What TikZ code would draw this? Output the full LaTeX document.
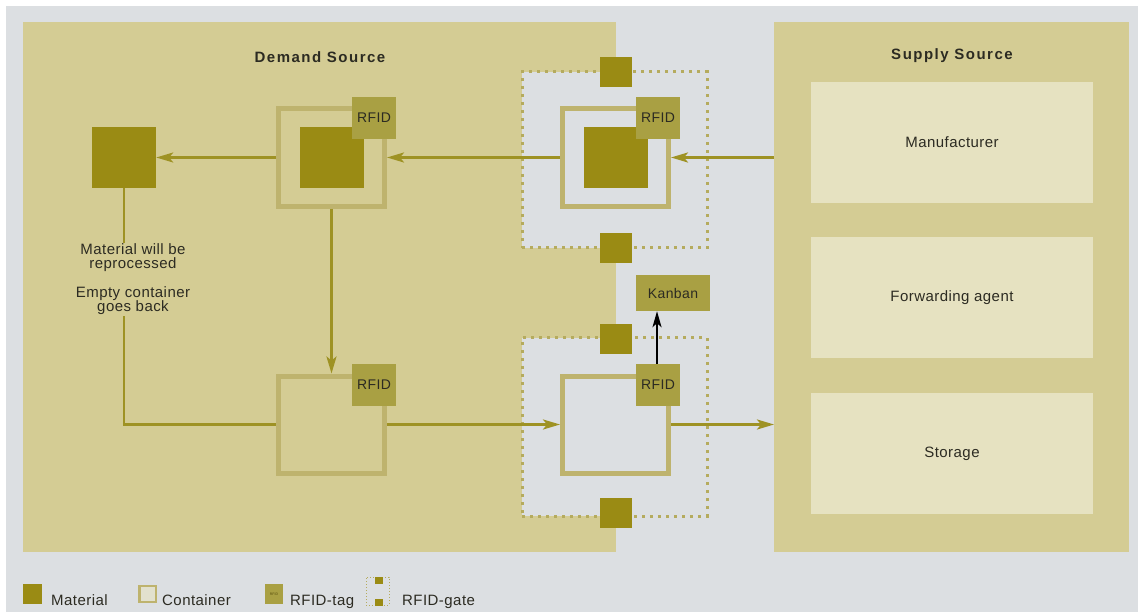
\documentclass[tikz,border=0pt]{standalone}
\usepackage{fontspec}
\setmainfont{Liberation Sans}[LetterSpace=3]
\usetikzlibrary{arrows.meta,positioning}
\definecolor{bgGray}{HTML}{DCDFE2}
\definecolor{panelTan}{HTML}{D4CC94}
\definecolor{boxCream}{HTML}{E6E2C1}
\definecolor{matOlive}{HTML}{9A8B14}
\definecolor{contEdge}{HTML}{BEB36E}
\definecolor{tagOlive}{HTML}{A9A043}
\definecolor{gateDot}{HTML}{B5AB5E}
\definecolor{flowOlive}{HTML}{9E9224}
\definecolor{inkDark}{HTML}{2C2B22}
\tikzset{
  panel/.style={fill=panelTan,inner sep=0pt,outer sep=0pt,anchor=north west},
  supplybox/.style={fill=boxCream,minimum width=282pt,minimum height=121pt,inner sep=0pt,
    text=inkDark,font=\fontsize{15pt}{17pt}\selectfont},
  paneltitle/.style={text=inkDark,font=\fontsize{15pt}{17pt}\selectfont\bfseries\addfontfeatures{LetterSpace=10}},
  material/.style={fill=matOlive,minimum width=64pt,minimum height=61pt,inner sep=0pt},
  container/.style={draw=contEdge,line width=5pt,minimum width=106pt,minimum height=98pt,inner sep=0pt},
  rfidtag/.style={fill=tagOlive,minimum width=44pt,minimum height=42pt,inner sep=0pt,
    text=inkDark,font=\fontsize{14pt}{16pt}\selectfont},
  gatebox/.style={draw=gateDot,fill=bgGray,line width=3pt,dash pattern=on 3pt off 5pt,
    minimum width=185pt,minimum height=176pt,inner sep=0pt},
  gatesq/.style={fill=matOlive,minimum width=32pt,minimum height=30pt,inner sep=0pt},
  note/.style={align=center,text=inkDark,inner sep=1pt,font=\fontsize{15pt}{14pt}\selectfont},
  legendtext/.style={anchor=base west,text=inkDark,inner sep=0pt,font=\fontsize{15pt}{17pt}\selectfont},
  flowLine/.style={draw=flowOlive,line width=2.5pt},
  flowArrow/.style={flowLine,-{Stealth[length=17pt,width=10pt,inset=4pt]}},
  kanbanArrow/.style={draw=black,line width=2pt,-{Stealth[length=16pt,width=9pt,inset=4pt]}}
}

\begin{document}
\begin{tikzpicture}[x=1pt,y=-1pt]
  \useasboundingbox (0,0) rectangle (1138,612);
  \fill[white] (0,0) rectangle (1138,612);
  \fill[bgGray] (6,6) rectangle (1138,612);

  \node[panel,minimum width=593pt,minimum height=530pt] (demand) at (23,22) {};
  \node[panel,minimum width=355pt,minimum height=530pt] (supply) at (774,22) {};
  \node[paneltitle] (demandT) at (320,57) {Demand Source};
  \node[paneltitle] (supplyT) at (952,56) {Supply Source};

  \node[supplybox] (manu) at (952,142.5) {Manufacturer};
  \node[supplybox] (fwd) at (952,297.5) {Forwarding agent};
  \node[supplybox] (store) at (952,453.5) {Storage};

  \node[gatebox] (gate1) at (614.5,160) {};
  \node[gatebox,minimum height=178pt] (gate2) at (614.5,427) {};
  \node[gatesq] (g1a) at (616,72) {};
  \node[gatesq] (g1b) at (616,248) {};
  \node[gatesq] (g2a) at (616,339) {};
  \node[gatesq] (g2b) at (616,513) {};

  \node[material] (matL) at (124,157.5) {};
  \node[container] (cont1) at (331.5,157.5) {};
  \node[material] (mat1) at (332,157.5) {};
  \node[rfidtag] (tag1) at (374,118) {RFID};
  \node[container] (cont3) at (615.5,157.5) {};
  \node[material] (mat3) at (615.5,157.5) {};
  \node[rfidtag] (tag3) at (658,118) {RFID};

  \node[container,minimum height=97pt] (cont2) at (331.5,424.5) {};
  \node[rfidtag] (tag2) at (374,385) {RFID};
  \node[container,minimum height=97pt] (cont4) at (615.5,424.5) {};
  \node[rfidtag] (tag4) at (658,385) {RFID};
  \node[rfidtag,minimum width=74pt,minimum height=36pt] (kanban) at (673,293) {Kanban};

  \node[note] (lbl1) at (133,258) {Material will be\\reprocessed};
  \node[note] (lbl2) at (133,301) {Empty container\\goes back};
  \coordinate (back) at (matL.south |- cont2.west);

  \draw[flowArrow] (supply.west |- cont3.east) -- (cont3.east);
  \draw[flowArrow] (cont3.west) -- (cont1.east);
  \draw[flowArrow] (cont1.west) -- (matL.east);
  \draw[flowArrow] (cont1.south) -- (cont2.north);
  \draw[flowLine] (matL.south) -- (matL.south |- lbl1.north);
  \draw[flowLine] (matL.south |- lbl2.south) -- (back) -- (cont2.west);
  \draw[flowArrow] (cont2.east) -- (cont4.west);
  \draw[flowArrow] (cont4.east) -- (supply.west |- cont4.east);
  \draw[kanbanArrow] (tag4.north -| 657,0) -- (kanban.south -| 657,0);

  \node[material,minimum width=19pt,minimum height=20pt] (legMat) at (32.5,594) {};
  \node[legendtext] (legMatT) at (51,605) {Material};
  \node[container,fill=boxCream!60!bgGray,line width=2.5pt,minimum width=16.5pt,minimum height=16pt] (legCont) at (147.5,594) {};
  \node[legendtext] (legContT) at (162,605) {Container};
  \node[rfidtag,minimum width=18pt,minimum height=20pt,text=matOlive!55!black,font=\fontsize{3.5pt}{4pt}\selectfont] (legTag) at (274,594) {RFID};
  \node[legendtext] (legTagT) at (290,605) {RFID-tag};
  \node[gatebox,fill=none,line width=1pt,dash pattern=on 1pt off 2pt,minimum width=23pt,minimum height=28pt] (legGate) at (377.5,591) {};
  \node[gatesq,minimum width=8pt,minimum height=7pt] (legGa) at (379,580.5) {};
  \node[gatesq,minimum width=8pt,minimum height=7pt] (legGb) at (379,602) {};
  \node[legendtext] (legGateT) at (402,605) {RFID-gate};
\end{tikzpicture}
\end{document}
